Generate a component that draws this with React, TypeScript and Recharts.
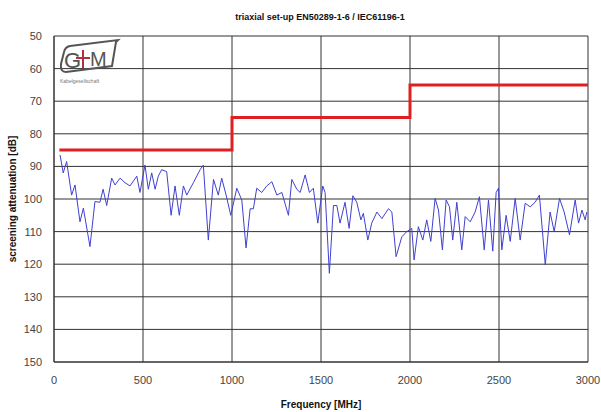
import React from 'react';
import { LineChart, Line, XAxis, YAxis, CartesianGrid } from 'recharts';

const freqMHz = [
  34, 52, 71, 99, 118, 146, 165, 202, 230, 258, 276, 296, 324, 343, 371, 399, 427, 465, 483, 511,
  530, 549, 568, 586, 605, 633, 658, 680, 704, 727, 746, 783, 821, 839, 867, 896, 923, 942, 967, 993,
  1027, 1055, 1079, 1102, 1120, 1139, 1167, 1195, 1224, 1252, 1280, 1317, 1336, 1364, 1383, 1411,
  1435, 1457, 1482, 1510, 1523, 1547, 1570, 1589, 1607, 1635, 1658, 1679, 1701, 1724, 1738, 1763,
  1785, 1814, 1842, 1879, 1898, 1922, 1954, 1982, 2010, 2023, 2047, 2072, 2094, 2117, 2141, 2160,
  2182, 2203, 2222, 2240, 2263, 2291, 2310, 2338, 2366, 2390, 2417, 2441, 2465, 2484, 2497, 2516,
  2540, 2563, 2591, 2619, 2647, 2675, 2703, 2727, 2760, 2787, 2810, 2840, 2866, 2896, 2928, 2947,
  2966, 2984, 2993,
];
const attenuationDb = [
  86.5, 92, 88.5, 98.8, 95.7, 107, 102.8, 114.6, 100.8, 101, 97, 102, 93.6, 95.7, 93.6, 95, 96, 93, 98, 89.6,
  97, 92, 97, 93, 91, 91.6, 105, 96, 105, 96, 98.8, 95, 91, 89.6, 112.6, 94, 98.8, 93.6, 98.8, 105,
  96.7, 100.3, 115, 103, 103, 96.7, 98, 96, 94.7, 98.8, 98, 105, 94, 97, 98, 92.6,
  98, 96.7, 107.4, 96, 98, 122.8, 102, 102, 107.4, 101, 109, 99, 101, 106.4, 104.4, 112.6,
  107.4, 104, 106, 103, 104, 117.7, 111.6, 110, 109, 118.7, 108.5, 112.6, 106.4, 113, 99.8, 103.4,
  115.6, 100.3, 102.4, 112.6, 101, 115.6, 105.4, 107, 104, 99.3, 115.6, 100.3, 116, 98, 96.7, 115.6,
  105, 113, 99.8, 112.6, 101.3, 102.4, 101, 98.8, 120.2, 104, 110, 99.8, 104, 111, 100.3, 107.4,
  103.4, 106.4, 104,
];

// limit line (step)
const limitFreq = [30, 1000, 2000, 3000];
const limitDb = [85, 75, 65, 65];

const xTicks = [0, 500, 1000, 1500, 2000, 2500, 3000];
const yTicks = [50, 60, 70, 80, 90, 100, 110, 120, 130, 140, 150];

const measured = freqMHz.map((f, i) => ({ f, db: attenuationDb[i] }));
const limit = limitFreq.map((f, i) => ({ f, db: limitDb[i] }));

const font = 'Liberation Sans, Arial, sans-serif';

const Logo = () => (
  <svg width={70} height={60} style={{ position: 'absolute', left: 56, top: 36 }}>
    <path d="M14 10 L62 4 L60 6 L56 30 L10 36 Q4 36 5 28 L8 16 Q9 11 14 10 Z" fill="none" stroke="#555" strokeWidth={2} />
    <text x={8} y={32} fontFamily={font} fontSize={22} fill="#555">G</text>
    <line x1={20} y1={22} x2={34} y2={22} stroke="#b03040" strokeWidth={2} />
    <line x1={27} y1={14} x2={27} y2={32} stroke="#b03040" strokeWidth={2} />
    <text x={34} y={30} fontFamily={font} fontSize={20} fill="#555">M</text>
    <text x={4} y={47} fontFamily={font} fontSize={5} fill="#777">Kabelgesellschaft</text>
  </svg>
);

export default function App() {
  return (
    <div style={{ position: 'absolute', left: 0, top: 0, width: 601, height: 412, background: '#fff', fontFamily: font }}>
      <div style={{ position: 'absolute', top: 12, left: 0, width: 640, textAlign: 'center', fontSize: 9, fontWeight: 'bold', color: '#111' }}>
        triaxial set-up EN50289-1-6 / IEC61196-1
      </div>
      <LineChart width={601} height={412} data={measured} margin={{ top: 36, right: 13, bottom: 0, left: 0 }}>
        <CartesianGrid stroke="#333" strokeWidth={1} />
        <XAxis
          dataKey="f"
          type="number"
          domain={[0, 3000]}
          ticks={xTicks}
          height={50}
          stroke="#333"
          tickLine={false}
          tick={{ fontSize: 11, fill: '#444', fontFamily: font }}
          tickMargin={8}
          label={{ value: 'Frequency [MHz]', position: 'insideBottom', offset: 4, style: { fontSize: 10, fontWeight: 'bold', fill: '#111', fontFamily: font } }}
        />
        <YAxis
          type="number"
          domain={[50, 150]}
          ticks={yTicks}
          reversed
          width={54}
          stroke="#333"
          tickLine={false}
          tick={{ fontSize: 11, fill: '#444', fontFamily: font }}
          tickMargin={6}
          label={{ value: 'screening attenuation [dB]', angle: -90, position: 'insideLeft', offset: 12, style: { textAnchor: 'middle', fontSize: 10, fontWeight: 'bold', fill: '#111', fontFamily: font } }}
        />
        <Line
          data={measured}
          dataKey="db"
          type="linear"
          stroke="#4040d0"
          strokeWidth={1}
          dot={false}
          isAnimationActive={false}
        />
        <Line
          data={limit}
          dataKey="db"
          type="stepAfter"
          stroke="#e02020"
          strokeWidth={3}
          dot={false}
          isAnimationActive={false}
        />
      </LineChart>
      <Logo />
    </div>
  );
}
